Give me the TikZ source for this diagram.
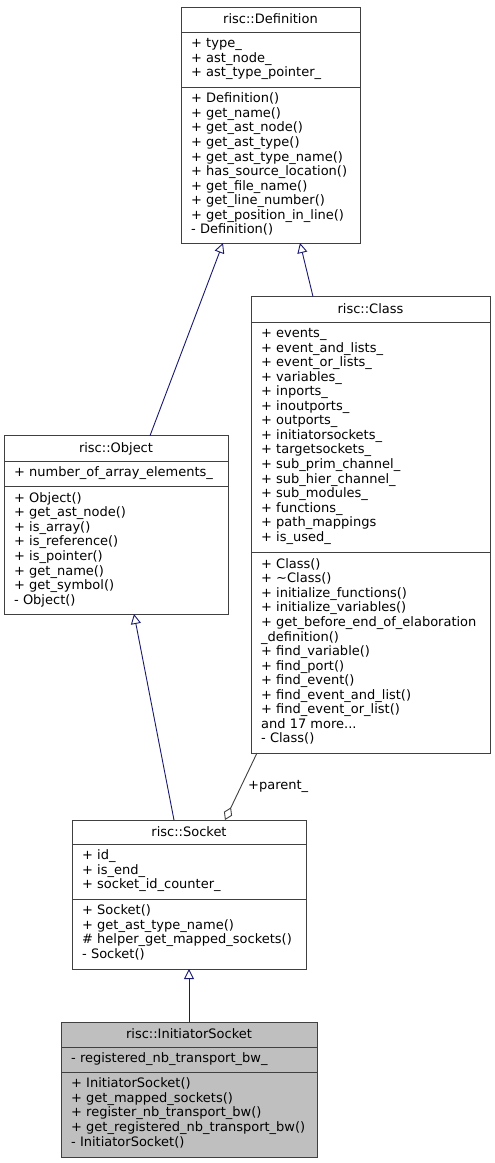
\documentclass[tikz,border=0pt]{standalone}
\usepackage{fontspec}
\newfontfamily\umlfam{DejaVu Sans}
\usetikzlibrary{arrows.meta}
\definecolor{edgeblue}{HTML}{191970}
\definecolor{boxline}{HTML}{404040}
\definecolor{boxfill}{HTML}{BFBFBF}
\newcommand\umlfont{\umlfam\fontsize{13}{14.56}\selectfont}
\newcommand\fl{\rule{0pt}{11pt}}
\begin{document}
\begin{tikzpicture}[x=1pt,y=-1pt,
 box/.style={draw=boxline, line width=1pt, inner sep=0pt, outer sep=0pt, anchor=north west, fill=white},
 sepline/.style={draw=boxline, line width=1pt},
 title/.style={anchor=base, inner sep=0pt, font=\umlfont},
 members/.style={anchor=north west, inner sep=0pt, align=left, font=\umlfont},
 inh/.style={draw=edgeblue, line width=0.9pt, -{Triangle[open, length=10pt, width=10pt]}},
 agg/.style={draw=boxline, line width=0.9pt, -{Diamond[open, length=14pt, width=9pt]}},
 lbl/.style={anchor=base west, inner sep=0pt, font=\umlfont}]
\fill[white] (0,0) rectangle (495,1163);
\useasboundingbox (0,0) rectangle (495,1163);

% risc::Definition
\node[box, minimum width=179pt, minimum height=236pt] (def) at (181,7) {};
\draw[sepline] (181,32.3) -- (360,32.3);
\draw[sepline] (181,87.3) -- (360,87.3);
\node[title] (defT) at (270.5,23.6) {risc::Definition};
\node[members] (defA) at (191,36.6) {\fl+ type\_\\+ ast\_node\_\\+ ast\_type\_pointer\_};
\node[members] (defM) at (191,91.6) {\fl+ Definition()\\+ get\_name()\\+ get\_ast\_node()\\+ get\_ast\_type()\\+ get\_ast\_type\_name()\\+ has\_source\_location()\\+ get\_file\_name()\\+ get\_line\_number()\\+ get\_position\_in\_line()\\- Definition()};

% risc::Class
\node[box, minimum width=239pt, minimum height=456.5pt] (cls) at (251,296.5) {};
\draw[sepline] (251,322) -- (490,322);
\draw[sepline] (251,552.7) -- (490,552.7);
\node[title] (clsT) at (370.5,313.3) {risc::Class};
\node[members] (clsA) at (261,326.3) {\fl+ events\_\\+ event\_and\_lists\_\\+ event\_or\_lists\_\\+ variables\_\\+ inports\_\\+ inoutports\_\\+ outports\_\\+ initiatorsockets\_\\+ targetsockets\_\\+ sub\_prim\_channel\_\\+ sub\_hier\_channel\_\\+ sub\_modules\_\\+ functions\_\\+ path\_mappings\\+ is\_used\_};
\node[members] (clsM) at (261,557) {\fl+ Class()\\+ \textasciitilde Class()\\+ initialize\_functions()\\+ initialize\_variables()\\+ get\_before\_end\_of\_elaboration\\\_definition()\\+ find\_variable()\\+ find\_port()\\+ find\_event()\\+ find\_event\_and\_list()\\+ find\_event\_or\_list()\\and 17 more...\\- Class()};

% risc::Object
\node[box, minimum width=224pt, minimum height=178.3pt] (obj) at (4,435.7) {};
\draw[sepline] (4,461) -- (228,461);
\draw[sepline] (4,486.7) -- (228,486.7);
\node[title] (objT) at (116,452.3) {risc::Object};
\node[members] (objA) at (14,465.3) {\fl+ number\_of\_array\_elements\_};
\node[members] (objM) at (14,491) {\fl+ Object()\\+ get\_ast\_node()\\+ is\_array()\\+ is\_reference()\\+ is\_pointer()\\+ get\_name()\\+ get\_symbol()\\- Object()};

% risc::Socket
\node[box, minimum width=234pt, minimum height=149pt] (sock) at (72,820) {};
\draw[sepline] (72,844.3) -- (306,844.3);
\draw[sepline] (72,899.3) -- (306,899.3);
\node[title] (sockT) at (189,836.6) {risc::Socket};
\node[members] (sockA) at (82,848.6) {\fl+ id\_\\+ is\_end\_\\+ socket\_id\_counter\_};
\node[members] (sockM) at (82,903.6) {\fl+ Socket()\\+ get\_ast\_type\_name()\\\# helper\_get\_mapped\_sockets()\\- Socket()};

% risc::InitiatorSocket
\node[box, fill=boxfill, minimum width=256pt, minimum height=135pt] (init) at (61,1022) {};
\draw[sepline] (61,1047.3) -- (317,1047.3);
\draw[sepline] (61,1072.3) -- (317,1072.3);
\node[title] (initT) at (189,1038.3) {risc::InitiatorSocket};
\node[members] (initA) at (71,1051.6) {\fl- registered\_nb\_transport\_bw\_};
\node[members] (initM) at (71,1076.6) {\fl+ InitiatorSocket()\\+ get\_mapped\_sockets()\\+ register\_nb\_transport\_bw()\\+ get\_registered\_nb\_transport\_bw()\\- InitiatorSocket()};

% connectors
\draw[inh] ([xshift=34pt]obj.north) -- ([xshift=-47.5pt]def.south);
\draw[inh] ([xshift=-57.5pt]cls.north) -- ([xshift=29.5pt]def.south);
\draw[inh] ([xshift=-15pt]sock.north) -- ([xshift=18pt]obj.south);
\draw[inh] (init.north) -- (sock.south);
\draw[agg] ([xshift=-113.5pt]cls.south) -- ([xshift=36pt]sock.north);
\node[lbl] (parentL) at (248,789) {+parent\_};
\end{tikzpicture}
\end{document}
